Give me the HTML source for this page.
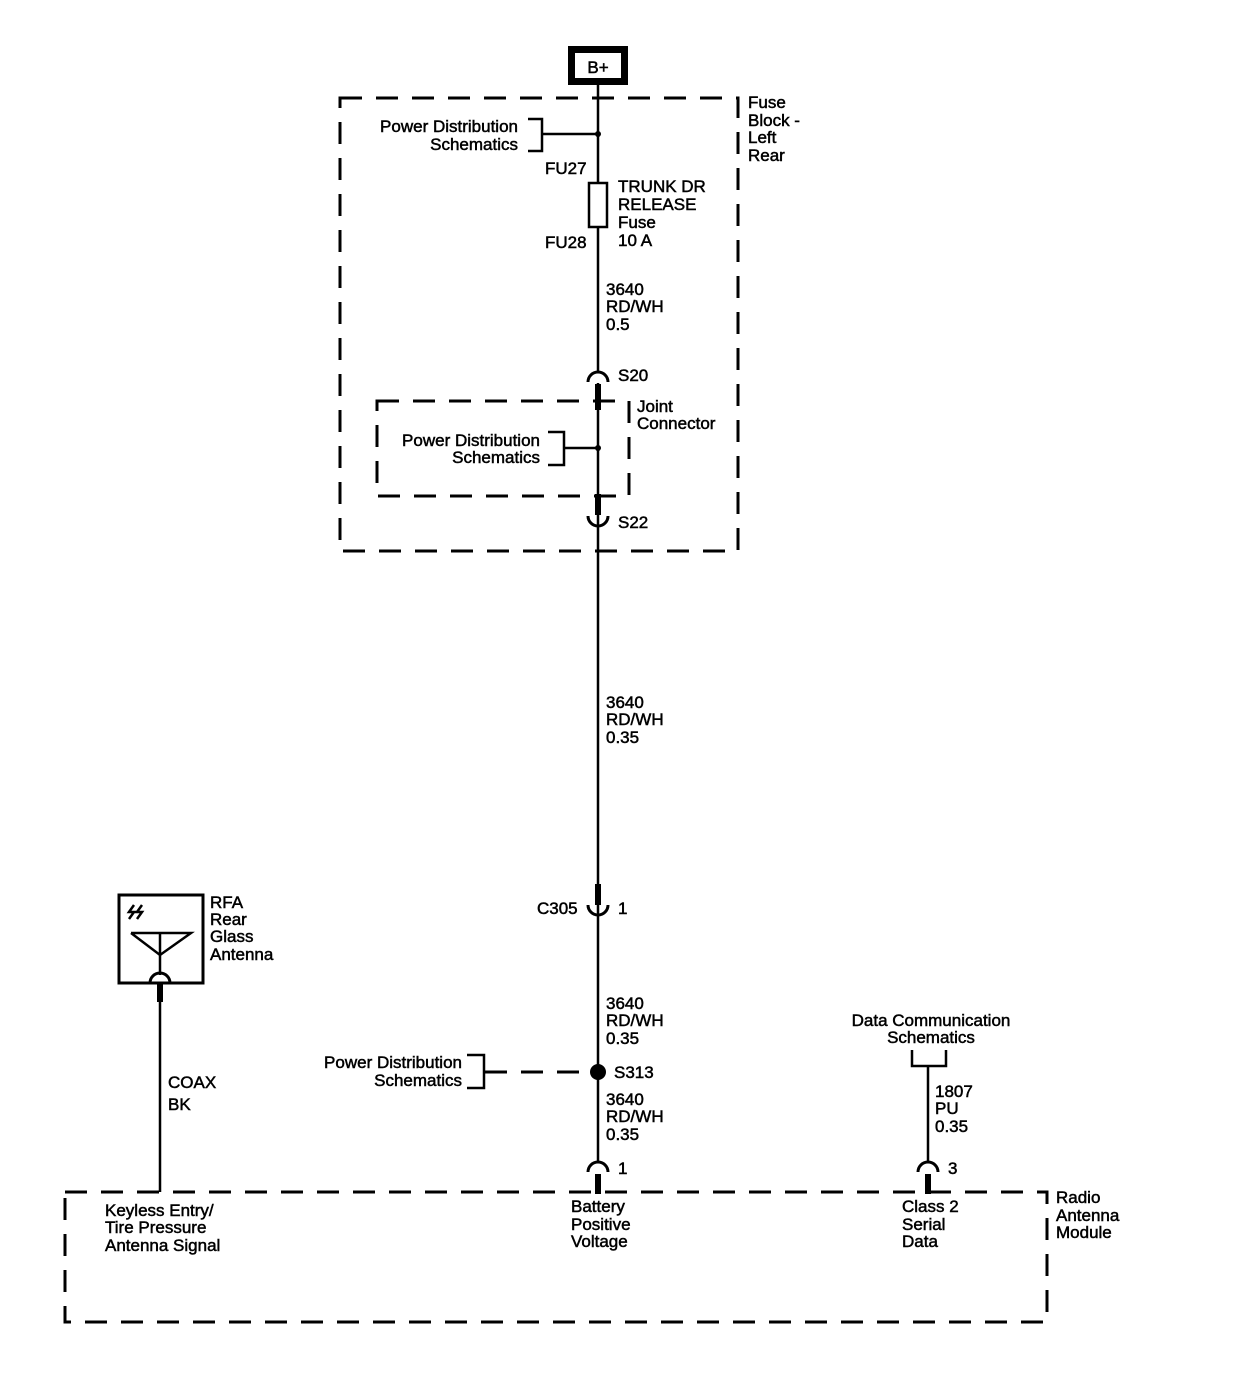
<!DOCTYPE html>
<html><head><meta charset="utf-8"><style>
html,body{margin:0;padding:0;background:#fff;}
svg text{font-family:"Liberation Sans",Arial,sans-serif;font-size:17px;fill:#000;stroke:#000;stroke-width:0.5px;}
</style></head><body>
<svg width="1240" height="1392" viewBox="0 0 1240 1392" xmlns="http://www.w3.org/2000/svg">
<g fill="none" stroke="#000">
<g stroke-width="3" stroke-dasharray="22,14">
<rect x="340" y="98" width="398" height="453"/>
<rect x="377" y="401" width="252" height="95"/>
<rect x="65" y="1192" width="982" height="130"/>
<line x1="485" y1="1072" x2="590" y2="1072"/>
</g>
<rect x="571.5" y="49.5" width="53" height="32" stroke-width="7"/>
<line x1="598" y1="85" x2="598" y2="372" stroke-width="2.5"/>
<line x1="598" y1="383" x2="598" y2="1162" stroke-width="2.5"/>
<rect x="589" y="183" width="18" height="44" fill="#fff" stroke-width="2.5"/>
<polyline points="528,119 542,119 542,151 528,151" stroke-width="2.5"/>
<line x1="542" y1="134" x2="598" y2="134" stroke-width="2.5"/>
<circle cx="598" cy="134" r="3" fill="#000" stroke="none"/>
<polyline points="548,432 564,432 564,465 548,465" stroke-width="2.5"/>
<line x1="564" y1="448" x2="598" y2="448" stroke-width="2.5"/>
<circle cx="598" cy="448" r="3" fill="#000" stroke="none"/>
<path d="M588,382 A10,10 0 0 1 608,382" stroke-width="3"/>
<line x1="598" y1="384" x2="598" y2="410" stroke-width="6"/>
<line x1="598" y1="494" x2="598" y2="515" stroke-width="6"/>
<path d="M588,516 A10,10 0 0 0 608,516" stroke-width="3"/>
<line x1="598" y1="884" x2="598" y2="905" stroke-width="6"/>
<path d="M588,905 A10,10 0 0 0 608,905" stroke-width="3"/>
<circle cx="598" cy="1072" r="8" fill="#000" stroke="none"/>
<polyline points="467,1055 484,1055 484,1088 467,1088" stroke-width="2.5"/>
<path d="M588,1172 A10,10 0 0 1 608,1172" stroke-width="3"/>
<line x1="598" y1="1174" x2="598" y2="1194" stroke-width="6"/>
<polyline points="912,1050 912,1066 946,1066 946,1050" stroke-width="2.5"/>
<line x1="928" y1="1066" x2="928" y2="1162" stroke-width="2.5"/>
<path d="M918,1172 A10,10 0 0 1 938,1172" stroke-width="3"/>
<line x1="928" y1="1174" x2="928" y2="1194" stroke-width="6"/>
<rect x="119" y="895" width="84" height="88" stroke-width="3"/>
<polyline points="131,933 191,933 160,955 131,933" stroke-width="2.5" fill="none"/>
<line x1="160" y1="933" x2="160" y2="975" stroke-width="2.5"/>
<path d="M150,983 A10,10 0 0 1 170,983" stroke-width="3"/>
<line x1="160" y1="983" x2="160" y2="1002" stroke-width="6"/>
<line x1="160" y1="1000" x2="160" y2="1192" stroke-width="2.5"/>
<path d="M134,905 l-5,7 h5 l-5,7 M142,905 l-5,7 h5 l-5,7" stroke-width="2.5"/>
</g>
<text x="598" y="73" text-anchor="middle">B+</text>
<text x="748" y="108">Fuse</text>
<text x="748" y="126">Block -</text>
<text x="748" y="143">Left</text>
<text x="748" y="161">Rear</text>
<text x="518" y="132" text-anchor="end">Power Distribution</text>
<text x="518" y="150" text-anchor="end">Schematics</text>
<text x="545" y="174">FU27</text>
<text x="545" y="248">FU28</text>
<text x="618" y="192">TRUNK DR</text>
<text x="618" y="210">RELEASE</text>
<text x="618" y="228">Fuse</text>
<text x="618" y="246">10 A</text>
<text x="606" y="295">3640</text>
<text x="606" y="312">RD/WH</text>
<text x="606" y="330">0.5</text>
<text x="618" y="381">S20</text>
<text x="637" y="412">Joint</text>
<text x="637" y="429">Connector</text>
<text x="540" y="446" text-anchor="end">Power Distribution</text>
<text x="540" y="463" text-anchor="end">Schematics</text>
<text x="618" y="528">S22</text>
<text x="606" y="708">3640</text>
<text x="606" y="725">RD/WH</text>
<text x="606" y="743">0.35</text>
<text x="537" y="914">C305</text>
<text x="618" y="914">1</text>
<text x="210" y="908">RFA</text>
<text x="210" y="925">Rear</text>
<text x="210" y="942">Glass</text>
<text x="210" y="960">Antenna</text>
<text x="606" y="1009">3640</text>
<text x="606" y="1026">RD/WH</text>
<text x="606" y="1044">0.35</text>
<text x="462" y="1068" text-anchor="end">Power Distribution</text>
<text x="462" y="1086" text-anchor="end">Schematics</text>
<text x="614" y="1078">S313</text>
<text x="606" y="1105">3640</text>
<text x="606" y="1122">RD/WH</text>
<text x="606" y="1140">0.35</text>
<text x="618" y="1174">1</text>
<text x="168" y="1088">COAX</text>
<text x="168" y="1110">BK</text>
<text x="931" y="1026" text-anchor="middle">Data Communication</text>
<text x="931" y="1043" text-anchor="middle">Schematics</text>
<text x="935" y="1097">1807</text>
<text x="935" y="1114">PU</text>
<text x="935" y="1132">0.35</text>
<text x="948" y="1174">3</text>
<text x="1056" y="1203">Radio</text>
<text x="1056" y="1221">Antenna</text>
<text x="1056" y="1238">Module</text>
<text x="105" y="1216">Keyless Entry/</text>
<text x="105" y="1233">Tire Pressure</text>
<text x="105" y="1251">Antenna Signal</text>
<text x="571" y="1212">Battery</text>
<text x="571" y="1230">Positive</text>
<text x="571" y="1247">Voltage</text>
<text x="902" y="1212">Class 2</text>
<text x="902" y="1230">Serial</text>
<text x="902" y="1247">Data</text>
</svg>
</body></html>
